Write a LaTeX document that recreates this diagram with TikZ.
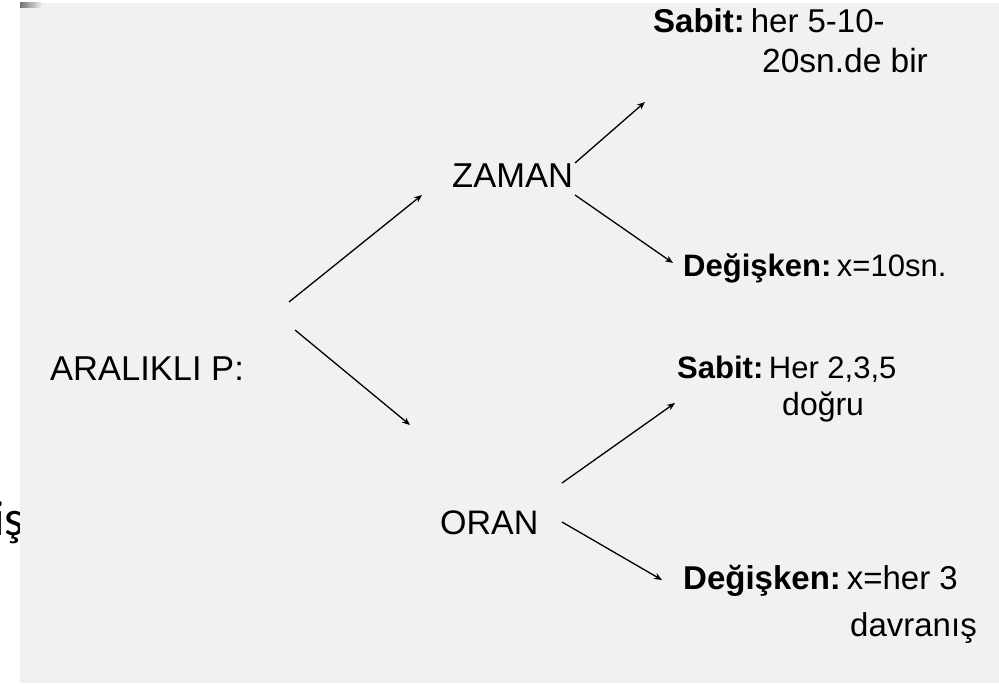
\documentclass[tikz,border=0pt]{standalone}
\usepackage{fontspec}
\setmainfont{Liberation Sans}
\newfontfamily\calfont{Carlito}
\usetikzlibrary{arrows.meta}
\definecolor{bggray}{HTML}{F1F1F1}
\newcommand{\bsp}{\hspace{0.18em}}
\begin{document}
\begin{tikzpicture}[x=1pt,y=-1pt,
  lbl/.style={inner sep=0pt, anchor=base west, text=black},
  conn/.style={line width=1.3pt, black, -{Stealth[length=8pt,width=6.5pt]}}]
\useasboundingbox (0,0) rectangle (999,685);
\fill[white] (0,0) rectangle (999,685);
\begin{scope}
\clip (0,0) rectangle (20,685);
\node[lbl, font=\calfont\fontsize{50}{60}\selectfont] (frag) at (-7,535) {iş};
\end{scope}
\fill[bggray] (20,3) rectangle (999,683);
\shade[left color=black!55, right color=bggray] (20,3) rectangle (42,8);

% labels
\node[lbl, font=\fontsize{34.5}{40}\selectfont] (aral) at (50,380) {ARALIKLI P:};
\node[lbl, font=\fontsize{34.5}{40}\selectfont] (zaman) at (452,187) {ZAMAN};
\node[lbl, font=\fontsize{34}{40}\selectfont] (oran) at (440,534) {ORAN};
\node[lbl, font=\fontsize{33}{38}\selectfont] (zs1) at (653,33) {\textbf{Sabit:}\bsp her 5-10-};
\node[lbl, font=\fontsize{33.5}{38}\selectfont] (zs2) at (762,73) {20sn.de bir};
\node[lbl, font=\fontsize{31}{36}\selectfont] (zd) at (683,276) {\textbf{Değişken:}\bsp x=10sn.};
\node[lbl, font=\fontsize{31}{36}\selectfont] (os1) at (677,378) {\textbf{Sabit:}\bsp Her 2,3,5};
\node[lbl, font=\fontsize{32}{36}\selectfont] (os2) at (782,415) {doğru};
\node[lbl, font=\fontsize{33}{38}\selectfont] (od1) at (683,589) {\textbf{Değişken:}\bsp x=her 3};
\node[lbl, font=\fontsize{33}{38}\selectfont] (od2) at (850,636) {davranış};

% connector end points
\coordinate (a1s) at (289,302); \coordinate (a1e) at (422,195);
\coordinate (a2s) at (295,330); \coordinate (a2e) at (410,425);
\coordinate (z1s) at (575,163); \coordinate (z1e) at (645,102);
\coordinate (z2s) at (575,195); \coordinate (z2e) at (673,263);
\coordinate (o1s) at (562,483); \coordinate (o1e) at (675,403);
\coordinate (o2s) at (562,522); \coordinate (o2e) at (662,580);

\draw[conn] (a1s) -- (a1e);
\draw[conn] (a2s) -- (a2e);
\draw[conn] (z1s) -- (z1e);
\draw[conn] (z2s) -- (z2e);
\draw[conn] (o1s) -- (o1e);
\draw[conn] (o2s) -- (o2e);
\end{tikzpicture}
\end{document}
